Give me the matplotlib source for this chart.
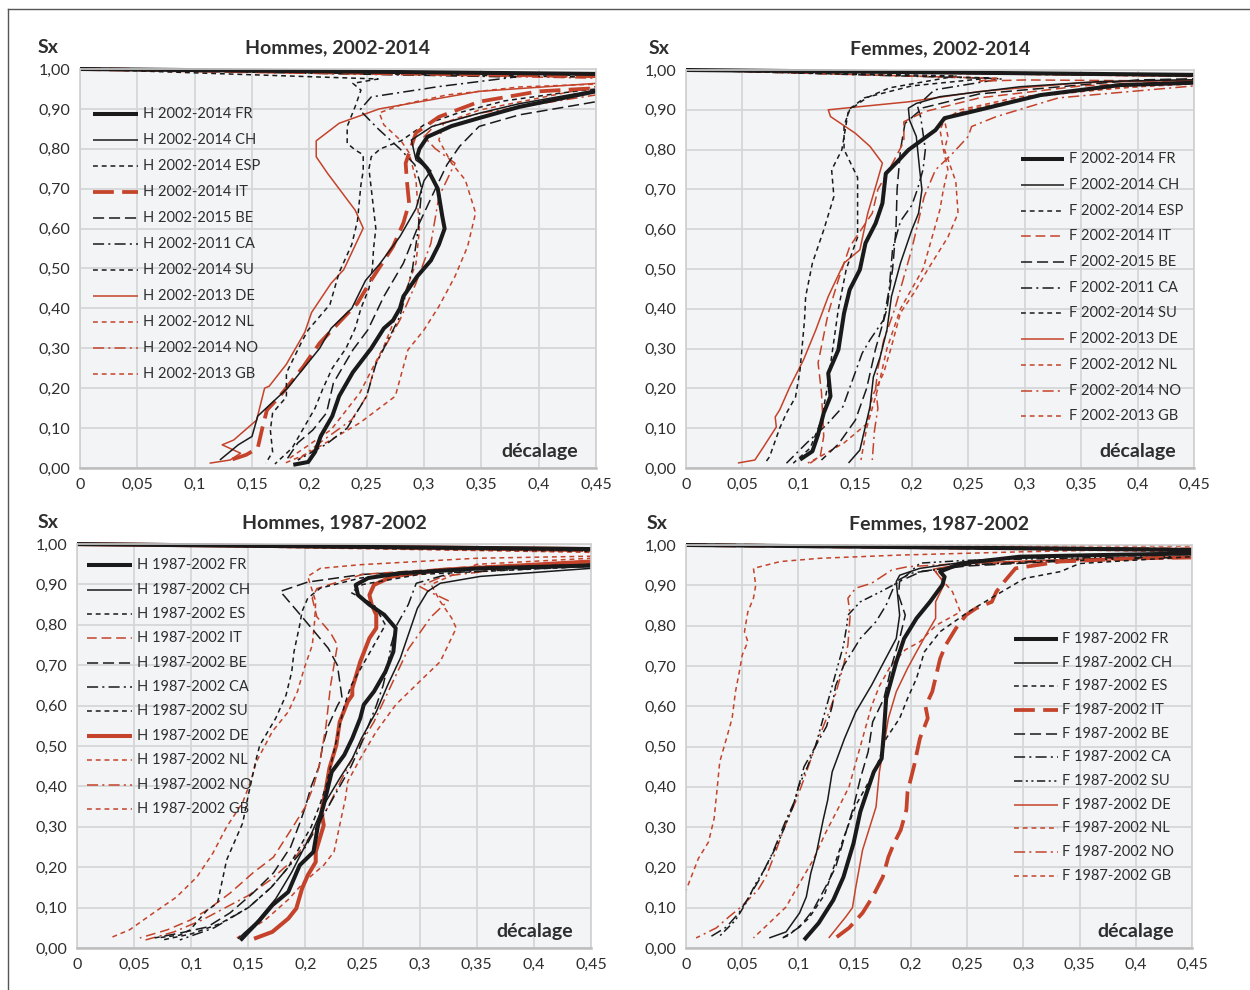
"""Sx vs décalage curves, four panels (Hommes/Femmes, 2002-2014 / 1987-2002)."""

import matplotlib
matplotlib.use("Agg")
import matplotlib.pyplot as plt
from matplotlib.lines import Line2D
from matplotlib.patches import Rectangle
from matplotlib.ticker import FuncFormatter, MultipleLocator

# ── Configuration ──────────────────────────────────────────────────────
plt.rcParams.update({
    "font.family": ["Lato", "DejaVu Sans"],
    "font.size": 11,
    "lines.scale_dashes": False,
})

BLACK = "#1a1a1a"
RED = "#c4432a"
TXT = "#2e2e2e"

KEYS = ["FR", "CH", "ES", "IT", "BE", "CA", "SU", "DE", "NL", "NO", "GB"]

# ── Data: (x = décalage, y = Sx) ───────────────────────────────────────
H0214 = {
    "FR": ([0, 0.55, 0.55, 0.45, 0.383, 0.348, 0.324, 0.303, 0.296, 0.294, 0.303, 0.312, 0.316, 0.318, 0.313, 0.306, 0.294, 0.282, 0.279, 0.273, 0.265, 0.254, 0.238, 0.226, 0.220, 0.210, 0.205, 0.199, 0.186],
           [1.0, 0.985, 0.975, 0.944, 0.905, 0.877, 0.857, 0.83, 0.80, 0.78, 0.75, 0.70, 0.63, 0.60, 0.56, 0.52, 0.48, 0.43, 0.40, 0.37, 0.35, 0.30, 0.24, 0.18, 0.13, 0.08, 0.04, 0.015, 0.008]),
    "CH": ([0, 0.55, 0.55, 0.45, 0.383, 0.348, 0.307, 0.289, 0.293, 0.306, 0.300, 0.293, 0.279, 0.261, 0.249, 0.237, 0.219, 0.209, 0.181, 0.155, 0.150, 0.138, 0.122],
           [1.0, 0.983, 0.97, 0.947, 0.913, 0.889, 0.856, 0.822, 0.772, 0.745, 0.72, 0.65, 0.58, 0.51, 0.47, 0.40, 0.35, 0.30, 0.20, 0.13, 0.079, 0.058, 0.02]),
    "ES": ([0, 0.26, 0.238, 0.245, 0.24, 0.233, 0.233, 0.24, 0.247, 0.247, 0.245, 0.242, 0.237, 0.226, 0.218, 0.199, 0.194, 0.18, 0.18, 0.168, 0.166, 0.168, 0.162],
           [1.0, 0.975, 0.964, 0.947, 0.906, 0.856, 0.814, 0.797, 0.785, 0.745, 0.71, 0.62, 0.56, 0.49, 0.41, 0.346, 0.32, 0.238, 0.178, 0.138, 0.095, 0.04, 0.012]),
    "IT": ([0, 0.55, 0.55, 0.45, 0.40, 0.348, 0.313, 0.293, 0.284, 0.285, 0.287, 0.282, 0.273, 0.254, 0.242, 0.228, 0.209, 0.195, 0.174, 0.163, 0.159, 0.155, 0.145, 0.126],
           [1.0, 0.978, 0.962, 0.952, 0.944, 0.918, 0.88, 0.84, 0.764, 0.722, 0.664, 0.614, 0.555, 0.471, 0.413, 0.371, 0.313, 0.255, 0.179, 0.145, 0.10, 0.05, 0.033, 0.015]),
    "BE": ([0, 0.55, 0.55, 0.45, 0.383, 0.348, 0.331, 0.32, 0.31, 0.296, 0.282, 0.265, 0.251, 0.238, 0.221, 0.215, 0.203, 0.19, 0.18],
           [1.0, 0.98, 0.93, 0.918, 0.885, 0.856, 0.806, 0.76, 0.70, 0.614, 0.513, 0.43, 0.346, 0.296, 0.213, 0.138, 0.095, 0.063, 0.02]),
    "CA": ([0, 0.38, 0.313, 0.254, 0.244, 0.26, 0.279, 0.292, 0.298, 0.295, 0.29, 0.279, 0.258, 0.25, 0.233, 0.215, 0.19],
           [1.0, 0.98, 0.956, 0.93, 0.897, 0.85, 0.80, 0.76, 0.70, 0.60, 0.50, 0.38, 0.26, 0.18, 0.10, 0.06, 0.02]),
    "SU": ([0, 0.55, 0.55, 0.45, 0.42, 0.37, 0.33, 0.30, 0.28, 0.262, 0.254, 0.252, 0.254, 0.256, 0.258, 0.256, 0.255, 0.252, 0.245, 0.24, 0.232, 0.22, 0.212, 0.205, 0.195, 0.185, 0.17],
           [1.0, 0.975, 0.96, 0.95, 0.94, 0.92, 0.89, 0.86, 0.82, 0.80, 0.78, 0.75, 0.70, 0.65, 0.60, 0.55, 0.50, 0.45, 0.40, 0.35, 0.30, 0.25, 0.20, 0.15, 0.10, 0.05, 0.01]),
    "DE": ([0, 0.55, 0.55, 0.45, 0.348, 0.261, 0.226, 0.206, 0.206, 0.216, 0.24, 0.247, 0.23, 0.219, 0.202, 0.196, 0.18, 0.165, 0.161, 0.154, 0.134, 0.124, 0.14, 0.131, 0.113],
           [1.0, 0.987, 0.968, 0.964, 0.944, 0.90, 0.864, 0.82, 0.78, 0.738, 0.646, 0.601, 0.497, 0.463, 0.39, 0.34, 0.26, 0.205, 0.20, 0.12, 0.07, 0.058, 0.037, 0.02, 0.012]),
    "NL": ([0, 0.55, 0.55, 0.45, 0.348, 0.317, 0.313, 0.324, 0.336, 0.345, 0.338, 0.327, 0.313, 0.30, 0.286, 0.275, 0.244, 0.199, 0.179],
           [1.0, 0.985, 0.96, 0.956, 0.897, 0.864, 0.822, 0.764, 0.722, 0.639, 0.555, 0.48, 0.405, 0.346, 0.296, 0.18, 0.113, 0.037, 0.0125]),
    "NO": ([0, 0.55, 0.55, 0.45, 0.35, 0.31, 0.30, 0.31, 0.327, 0.313, 0.306, 0.293, 0.279, 0.258, 0.25, 0.237, 0.209, 0.19],
           [1.0, 0.972, 0.945, 0.935, 0.89, 0.86, 0.83, 0.80, 0.764, 0.68, 0.563, 0.463, 0.371, 0.263, 0.18, 0.121, 0.063, 0.02]),
    "GB": ([0, 0.55, 0.55, 0.45, 0.383, 0.32, 0.28, 0.261, 0.265, 0.28, 0.287, 0.293, 0.296, 0.293, 0.279, 0.265, 0.244, 0.219, 0.181],
           [1.0, 0.975, 0.965, 0.962, 0.955, 0.935, 0.91, 0.89, 0.86, 0.82, 0.79, 0.722, 0.597, 0.513, 0.405, 0.305, 0.188, 0.096, 0.021]),
}

F0214 = {
    "FR": ([0, 0.55, 0.55, 0.45, 0.384, 0.314, 0.26, 0.229, 0.221, 0.197, 0.186, 0.177, 0.174, 0.168, 0.159, 0.154, 0.145, 0.14, 0.135, 0.126, 0.128, 0.122, 0.117, 0.112, 0.101],
           [1.0, 0.985, 0.972, 0.968, 0.962, 0.937, 0.90, 0.879, 0.849, 0.799, 0.766, 0.74, 0.665, 0.615, 0.565, 0.498, 0.448, 0.389, 0.297, 0.238, 0.18, 0.138, 0.084, 0.042, 0.021]),
    "CH": ([0, 0.55, 0.55, 0.437, 0.367, 0.296, 0.225, 0.204, 0.197, 0.198, 0.204, 0.207, 0.209, 0.206, 0.20, 0.19, 0.182, 0.178, 0.172, 0.166, 0.163, 0.154, 0.144],
           [1.0, 0.982, 0.978, 0.975, 0.971, 0.958, 0.933, 0.916, 0.904, 0.874, 0.833, 0.749, 0.699, 0.64, 0.598, 0.515, 0.431, 0.347, 0.279, 0.229, 0.154, 0.045, 0.0125]),
    "ES": ([0, 0.27, 0.20, 0.158, 0.144, 0.142, 0.138, 0.129, 0.131, 0.122, 0.112, 0.106, 0.105, 0.101, 0.097, 0.089, 0.083, 0.074, 0.07],
           [1.0, 0.98, 0.96, 0.93, 0.90, 0.866, 0.799, 0.749, 0.682, 0.598, 0.515, 0.431, 0.372, 0.246, 0.178, 0.138, 0.10, 0.028, 0.0125]),
    "IT": ([0, 0.275, 0.26, 0.30, 0.45, 0.35, 0.26, 0.211, 0.193, 0.193, 0.18, 0.17, 0.165, 0.145, 0.135, 0.126, 0.117, 0.12, 0.122, 0.119, 0.11],
           [1.0, 0.979, 0.972, 0.975, 0.972, 0.96, 0.93, 0.895, 0.87, 0.82, 0.75, 0.70, 0.64, 0.556, 0.473, 0.389, 0.264, 0.19, 0.08, 0.03, 0.012]),
    "BE": ([0, 0.55, 0.55, 0.45, 0.40, 0.26, 0.21, 0.194, 0.19, 0.187, 0.186, 0.183, 0.178, 0.168, 0.16, 0.15, 0.135, 0.12],
           [1.0, 0.982, 0.98, 0.978, 0.975, 0.94, 0.905, 0.866, 0.80, 0.70, 0.60, 0.50, 0.40, 0.30, 0.20, 0.12, 0.06, 0.02]),
    "CA": ([0, 0.28, 0.22, 0.205, 0.208, 0.212, 0.21, 0.205, 0.20, 0.19, 0.183, 0.18, 0.175, 0.163, 0.156, 0.139, 0.125, 0.107, 0.089],
           [1.0, 0.978, 0.95, 0.91, 0.88, 0.80, 0.75, 0.70, 0.66, 0.62, 0.55, 0.45, 0.372, 0.322, 0.288, 0.154, 0.11, 0.063, 0.012]),
    "SU": ([0, 0.24, 0.18, 0.16, 0.145, 0.14, 0.14, 0.152, 0.152, 0.142, 0.135, 0.13, 0.125, 0.12, 0.11, 0.095],
           [1.0, 0.985, 0.955, 0.93, 0.90, 0.86, 0.80, 0.73, 0.58, 0.50, 0.40, 0.30, 0.20, 0.12, 0.05, 0.012]),
    "DE": ([0, 0.55, 0.55, 0.45, 0.35, 0.26, 0.197, 0.126, 0.128, 0.15, 0.163, 0.174, 0.168, 0.161, 0.154, 0.14, 0.126, 0.115, 0.104, 0.092, 0.083, 0.079, 0.08, 0.068, 0.061, 0.046],
           [1.0, 0.985, 0.977, 0.975, 0.968, 0.946, 0.92, 0.90, 0.883, 0.841, 0.808, 0.766, 0.707, 0.64, 0.548, 0.515, 0.431, 0.347, 0.271, 0.204, 0.146, 0.128, 0.103, 0.05, 0.02, 0.0125]),
    "NL": ([0, 0.55, 0.55, 0.45, 0.296, 0.243, 0.229, 0.232, 0.229, 0.239, 0.241, 0.232, 0.214, 0.202, 0.19, 0.182, 0.175, 0.165, 0.161, 0.14, 0.119, 0.108],
           [1.0, 0.982, 0.972, 0.97, 0.933, 0.90, 0.874, 0.833, 0.80, 0.72, 0.64, 0.58, 0.498, 0.44, 0.39, 0.305, 0.238, 0.18, 0.113, 0.063, 0.029, 0.0125]),
    "NO": ([0, 0.55, 0.55, 0.45, 0.33, 0.275, 0.253, 0.25, 0.236, 0.221, 0.211, 0.20, 0.19, 0.185, 0.175, 0.17, 0.168, 0.17, 0.167, 0.165],
           [1.0, 0.98, 0.965, 0.96, 0.93, 0.883, 0.858, 0.833, 0.79, 0.749, 0.682, 0.55, 0.45, 0.40, 0.32, 0.25, 0.2, 0.15, 0.095, 0.02]),
    "GB": ([0, 0.55, 0.55, 0.45, 0.38, 0.30, 0.25, 0.23, 0.225, 0.228, 0.232, 0.228, 0.225, 0.22, 0.215, 0.21, 0.20, 0.19, 0.178, 0.17, 0.16, 0.155],
           [1.0, 0.98, 0.968, 0.965, 0.955, 0.93, 0.90, 0.88, 0.85, 0.80, 0.75, 0.70, 0.65, 0.60, 0.55, 0.50, 0.45, 0.40, 0.30, 0.20, 0.10, 0.02]),
}

H8702 = {
    "FR": ([0, 0.55, 0.55, 0.45, 0.353, 0.283, 0.255, 0.244, 0.246, 0.256, 0.269, 0.279, 0.277, 0.27, 0.26, 0.251, 0.248, 0.241, 0.234, 0.223, 0.216, 0.211, 0.207, 0.195, 0.185, 0.171, 0.16, 0.15, 0.143],
           [1.0, 0.985, 0.955, 0.947, 0.94, 0.928, 0.916, 0.899, 0.874, 0.85, 0.825, 0.792, 0.734, 0.684, 0.635, 0.602, 0.569, 0.519, 0.478, 0.436, 0.354, 0.304, 0.238, 0.205, 0.139, 0.106, 0.069, 0.04, 0.019]),
    "CH": ([0, 0.55, 0.55, 0.45, 0.353, 0.318, 0.307, 0.298, 0.29, 0.283, 0.272, 0.262, 0.249, 0.241, 0.23, 0.216, 0.206, 0.188, 0.174, 0.157, 0.141],
           [1.0, 0.983, 0.935, 0.94, 0.92, 0.903, 0.883, 0.841, 0.775, 0.717, 0.651, 0.585, 0.519, 0.469, 0.42, 0.354, 0.288, 0.188, 0.122, 0.064, 0.023]),
    "ES": ([0, 0.55, 0.55, 0.45, 0.35, 0.248, 0.213, 0.202, 0.197, 0.195, 0.19, 0.188, 0.183, 0.174, 0.16, 0.157, 0.15, 0.145, 0.131, 0.123, 0.114, 0.099, 0.09, 0.07],
           [1.0, 0.98, 0.955, 0.95, 0.94, 0.916, 0.891, 0.866, 0.833, 0.80, 0.734, 0.684, 0.626, 0.569, 0.502, 0.469, 0.379, 0.309, 0.218, 0.111, 0.094, 0.045, 0.032, 0.025]),
    "IT": ([0, 0.55, 0.55, 0.45, 0.35, 0.25, 0.21, 0.206, 0.21, 0.222, 0.228, 0.225, 0.222, 0.22, 0.218, 0.215, 0.212, 0.207, 0.2, 0.189, 0.172, 0.154, 0.134, 0.114, 0.099, 0.079, 0.055],
           [1.0, 0.978, 0.96, 0.955, 0.945, 0.925, 0.89, 0.866, 0.82, 0.78, 0.75, 0.70, 0.65, 0.60, 0.55, 0.50, 0.45, 0.40, 0.35, 0.30, 0.225, 0.186, 0.136, 0.094, 0.069, 0.045, 0.025]),
    "BE": ([0, 0.55, 0.55, 0.45, 0.35, 0.25, 0.202, 0.178, 0.197, 0.22, 0.228, 0.232, 0.228, 0.22, 0.215, 0.212, 0.205, 0.2, 0.195, 0.187, 0.172, 0.154, 0.134, 0.114, 0.09, 0.068],
           [1.0, 0.98, 0.952, 0.95, 0.94, 0.925, 0.906, 0.883, 0.82, 0.742, 0.70, 0.62, 0.60, 0.55, 0.50, 0.45, 0.40, 0.35, 0.309, 0.25, 0.186, 0.136, 0.087, 0.052, 0.037, 0.025]),
    "CA": ([0, 0.55, 0.55, 0.45, 0.33, 0.297, 0.29, 0.28, 0.275, 0.272, 0.268, 0.262, 0.255, 0.248, 0.24, 0.23, 0.22, 0.21, 0.2, 0.185, 0.17, 0.15, 0.12, 0.09],
           [1.0, 0.985, 0.95, 0.945, 0.93, 0.903, 0.85, 0.80, 0.75, 0.70, 0.65, 0.60, 0.55, 0.50, 0.45, 0.40, 0.35, 0.30, 0.25, 0.20, 0.15, 0.10, 0.05, 0.02]),
    "SU": ([0, 0.55, 0.55, 0.45, 0.3, 0.25, 0.24, 0.26, 0.27, 0.26, 0.25, 0.24, 0.234, 0.23, 0.226, 0.222, 0.218, 0.212, 0.205, 0.195, 0.185, 0.17, 0.15, 0.125, 0.1, 0.075],
           [1.0, 0.978, 0.95, 0.945, 0.925, 0.90, 0.88, 0.85, 0.80, 0.75, 0.70, 0.65, 0.60, 0.55, 0.50, 0.45, 0.40, 0.35, 0.30, 0.25, 0.20, 0.15, 0.10, 0.06, 0.035, 0.02]),
    "DE": ([0, 0.55, 0.55, 0.45, 0.318, 0.276, 0.26, 0.256, 0.258, 0.262, 0.262, 0.256, 0.248, 0.241, 0.241, 0.237, 0.23, 0.227, 0.221, 0.218, 0.214, 0.216, 0.209, 0.209, 0.202, 0.197, 0.192, 0.185, 0.171, 0.155],
           [1.0, 0.985, 0.96, 0.957, 0.936, 0.92, 0.899, 0.874, 0.85, 0.825, 0.792, 0.767, 0.709, 0.643, 0.626, 0.61, 0.56, 0.502, 0.445, 0.395, 0.337, 0.304, 0.238, 0.213, 0.18, 0.147, 0.098, 0.073, 0.04, 0.023]),
    "NL": ([0, 0.55, 0.55, 0.45, 0.35, 0.248, 0.213, 0.202, 0.209, 0.208, 0.206, 0.199, 0.193, 0.185, 0.171, 0.157, 0.152, 0.145, 0.131, 0.119, 0.105, 0.087, 0.067, 0.046, 0.029],
           [1.0, 0.98, 0.975, 0.97, 0.965, 0.949, 0.94, 0.92, 0.858, 0.808, 0.75, 0.693, 0.635, 0.585, 0.536, 0.461, 0.412, 0.36, 0.30, 0.235, 0.176, 0.126, 0.087, 0.045, 0.025]),
    "NO": ([0, 0.55, 0.55, 0.45, 0.38, 0.32, 0.30, 0.31, 0.325, 0.31, 0.30, 0.29, 0.28, 0.27, 0.26, 0.245, 0.232, 0.22, 0.205, 0.19, 0.17, 0.15, 0.13, 0.11, 0.085, 0.06],
           [1.0, 0.978, 0.955, 0.95, 0.94, 0.92, 0.895, 0.88, 0.86, 0.82, 0.78, 0.74, 0.68, 0.62, 0.56, 0.49, 0.42, 0.35, 0.28, 0.22, 0.17, 0.13, 0.10, 0.07, 0.04, 0.02]),
    "GB": ([0, 0.55, 0.55, 0.45, 0.35, 0.31, 0.318, 0.328, 0.332, 0.318, 0.30, 0.279, 0.262, 0.248, 0.237, 0.235, 0.23, 0.225, 0.216, 0.199, 0.185, 0.165, 0.14],
           [1.0, 0.975, 0.97, 0.965, 0.95, 0.90, 0.858, 0.817, 0.792, 0.709, 0.66, 0.602, 0.536, 0.469, 0.412, 0.37, 0.304, 0.238, 0.205, 0.164, 0.12, 0.07, 0.025]),
}

F8702 = {
    "FR": ([0, 0.55, 0.55, 0.45, 0.368, 0.297, 0.244, 0.226, 0.23, 0.228, 0.217, 0.205, 0.194, 0.187, 0.178, 0.176, 0.174, 0.167, 0.162, 0.155, 0.149, 0.14, 0.131, 0.118, 0.105],
           [1.0, 0.985, 0.982, 0.979, 0.975, 0.971, 0.954, 0.934, 0.921, 0.901, 0.859, 0.818, 0.768, 0.71, 0.619, 0.536, 0.47, 0.437, 0.396, 0.338, 0.26, 0.176, 0.119, 0.062, 0.02]),
    "CH": ([0, 0.55, 0.55, 0.45, 0.333, 0.261, 0.208, 0.19, 0.187, 0.19, 0.187, 0.176, 0.165, 0.151, 0.141, 0.13, 0.126, 0.122, 0.116, 0.111, 0.107, 0.101, 0.089, 0.074],
           [1.0, 0.988, 0.985, 0.982, 0.971, 0.963, 0.942, 0.925, 0.909, 0.826, 0.768, 0.71, 0.652, 0.586, 0.52, 0.437, 0.367, 0.318, 0.236, 0.186, 0.127, 0.087, 0.04, 0.025]),
    "ES": ([0, 0.55, 0.55, 0.45, 0.35, 0.333, 0.301, 0.276, 0.251, 0.226, 0.212, 0.205, 0.197, 0.19, 0.178, 0.169, 0.151, 0.14, 0.123, 0.109, 0.091, 0.084],
           [1.0, 0.982, 0.975, 0.971, 0.954, 0.934, 0.917, 0.876, 0.834, 0.785, 0.735, 0.669, 0.619, 0.57, 0.52, 0.445, 0.354, 0.272, 0.131, 0.073, 0.031, 0.023]),
    "IT": ([0, 0.55, 0.55, 0.45, 0.404, 0.333, 0.293, 0.283, 0.276, 0.272, 0.258, 0.249, 0.24, 0.231, 0.226, 0.219, 0.213, 0.215, 0.208, 0.203, 0.197, 0.196, 0.191, 0.185, 0.18, 0.175, 0.166, 0.157, 0.145, 0.133],
           [1.0, 0.985, 0.972, 0.969, 0.967, 0.959, 0.942, 0.909, 0.884, 0.859, 0.843, 0.826, 0.793, 0.752, 0.718, 0.636, 0.60, 0.57, 0.52, 0.454, 0.387, 0.343, 0.293, 0.26, 0.226, 0.176, 0.127, 0.087, 0.05, 0.025]),
    "BE": ([0, 0.55, 0.55, 0.45, 0.35, 0.25, 0.21, 0.19, 0.189, 0.195, 0.19, 0.183, 0.176, 0.166, 0.162, 0.155, 0.149, 0.142, 0.133, 0.124, 0.113, 0.101, 0.086],
           [1.0, 0.985, 0.972, 0.97, 0.962, 0.948, 0.935, 0.91, 0.876, 0.826, 0.768, 0.702, 0.619, 0.561, 0.487, 0.42, 0.35, 0.285, 0.2, 0.151, 0.094, 0.052, 0.025]),
    "CA": ([0, 0.55, 0.55, 0.45, 0.35, 0.25, 0.2, 0.187, 0.183, 0.178, 0.169, 0.155, 0.144, 0.14, 0.133, 0.13, 0.125, 0.115, 0.105, 0.1, 0.097, 0.089, 0.077, 0.065, 0.056, 0.047, 0.036, 0.02],
           [1.0, 0.985, 0.975, 0.972, 0.965, 0.95, 0.93, 0.91, 0.884, 0.851, 0.81, 0.768, 0.718, 0.70, 0.65, 0.60, 0.55, 0.50, 0.45, 0.40, 0.367, 0.318, 0.236, 0.169, 0.127, 0.087, 0.052, 0.025]),
    "SU": ([0, 0.55, 0.55, 0.45, 0.35, 0.25, 0.208, 0.19, 0.173, 0.155, 0.144, 0.143, 0.14, 0.135, 0.13, 0.125, 0.12, 0.115, 0.108, 0.1, 0.095, 0.083, 0.071, 0.062, 0.053, 0.044, 0.029],
           [1.0, 0.988, 0.975, 0.972, 0.968, 0.962, 0.955, 0.909, 0.884, 0.859, 0.826, 0.80, 0.75, 0.70, 0.65, 0.60, 0.55, 0.50, 0.45, 0.40, 0.35, 0.268, 0.20, 0.16, 0.11, 0.069, 0.027]),
    "DE": ([0, 0.55, 0.55, 0.45, 0.35, 0.25, 0.22, 0.23, 0.222, 0.222, 0.215, 0.205, 0.197, 0.187, 0.18, 0.176, 0.172, 0.169, 0.157, 0.151, 0.148, 0.142, 0.127],
           [1.0, 0.985, 0.975, 0.972, 0.965, 0.955, 0.94, 0.905, 0.859, 0.818, 0.785, 0.735, 0.694, 0.636, 0.57, 0.503, 0.437, 0.35, 0.243, 0.151, 0.10, 0.077, 0.025]),
    "NL": ([0, 0.55, 0.55, 0.45, 0.35, 0.25, 0.222, 0.23, 0.237, 0.244, 0.222, 0.208, 0.195, 0.182, 0.172, 0.165, 0.16, 0.155, 0.15, 0.145, 0.136, 0.124, 0.113, 0.101, 0.089, 0.074, 0.06],
           [1.0, 0.98, 0.972, 0.968, 0.96, 0.952, 0.934, 0.906, 0.884, 0.834, 0.80, 0.76, 0.74, 0.70, 0.65, 0.60, 0.55, 0.50, 0.45, 0.40, 0.35, 0.285, 0.218, 0.161, 0.102, 0.062, 0.025]),
    "NO": ([0, 0.55, 0.55, 0.45, 0.35, 0.25, 0.197, 0.183, 0.165, 0.151, 0.144, 0.146, 0.144, 0.14, 0.133, 0.125, 0.115, 0.105, 0.098, 0.089, 0.078, 0.071, 0.064, 0.049, 0.038, 0.027, 0.009],
           [1.0, 0.99, 0.972, 0.97, 0.962, 0.955, 0.946, 0.938, 0.905, 0.893, 0.868, 0.826, 0.752, 0.70, 0.63, 0.57, 0.50, 0.42, 0.367, 0.31, 0.226, 0.176, 0.144, 0.102, 0.077, 0.05, 0.025]),
    "GB": ([0, 0.55, 0.55, 0.45, 0.297, 0.19, 0.119, 0.084, 0.06, 0.062, 0.06, 0.055, 0.052, 0.055, 0.05, 0.048, 0.044, 0.041, 0.036, 0.03, 0.028, 0.025, 0.02, 0.011, 0.0, -0.02],
           [1.0, 0.997, 0.993, 0.992, 0.983, 0.975, 0.967, 0.959, 0.942, 0.90, 0.868, 0.834, 0.785, 0.76, 0.727, 0.694, 0.636, 0.57, 0.52, 0.462, 0.404, 0.321, 0.263, 0.222, 0.143, 0.08]),
}

# ── Line styles: (colour, width, dashes in points) ─────────────────────
SOLID_THICK = (BLACK, 2.9, None)
SOLID_THIN = (BLACK, 1.1, None)
SHORT_DASH = (BLACK, 1.1, (3.5, 2.8))
LONG_DASH = (BLACK, 1.1, (8, 3.5))
DASH_DOT = (BLACK, 1.1, (8, 3, 1.5, 3))
DASH_DOT_DOT = (BLACK, 1.1, (6, 2.5, 1.5, 2.5, 1.5, 2.5))
RED_THICK_LONG = (RED, 2.7, (15, 6))
RED_THIN_LONG = (RED, 1.1, (7, 3.5))
RED_THICK = (RED, 2.9, None)
RED_THIN = (RED, 1.1, None)
RED_SHORT = (RED, 1.1, (3.5, 2.8))
RED_DASH_DOT = (RED, 1.1, (8, 3, 1.5, 3))

STYLE_H0214 = [SOLID_THICK, SOLID_THIN, SHORT_DASH, RED_THICK_LONG, LONG_DASH, DASH_DOT,
               SHORT_DASH, RED_THIN, RED_SHORT, RED_DASH_DOT, RED_SHORT]
STYLE_F0214 = [SOLID_THICK, SOLID_THIN, SHORT_DASH, RED_THIN_LONG, LONG_DASH, DASH_DOT,
               SHORT_DASH, RED_THIN, RED_SHORT, RED_DASH_DOT, RED_SHORT]
STYLE_H8702 = [SOLID_THICK, SOLID_THIN, SHORT_DASH, RED_THIN_LONG, LONG_DASH, DASH_DOT,
               SHORT_DASH, RED_THICK, RED_SHORT, RED_DASH_DOT, RED_SHORT]
STYLE_F8702 = [SOLID_THICK, SOLID_THIN, SHORT_DASH, RED_THICK_LONG, LONG_DASH, DASH_DOT,
               DASH_DOT_DOT, RED_THIN, RED_SHORT, RED_DASH_DOT, RED_SHORT]

LABELS_H0214 = ["H 2002-2014 FR", "H 2002-2014 CH", "H 2002-2014 ESP", "H 2002-2014 IT",
                "H 2002-2015 BE", "H 2002-2011 CA", "H 2002-2014 SU", "H 2002-2013 DE",
                "H 2002-2012 NL", "H 2002-2014 NO", "H 2002-2013 GB"]
LABELS_F0214 = [s.replace("H ", "F ") for s in LABELS_H0214]
LABELS_H8702 = ["H 1987-2002 " + k for k in KEYS]
LABELS_F8702 = ["F 1987-2002 " + k for k in KEYS]


def styled(line, st):
    color, lw, dashes = st
    line.set_color(color)
    line.set_linewidth(lw)
    line.set_solid_capstyle("butt")
    line.set_dash_capstyle("butt")
    if dashes:
        line.set_dashes(dashes)
    return line


def fmt(v, _pos):
    s = f"{v:.2f}".rstrip("0").rstrip(".")
    return s.replace(".", ",")


def panel(fig, rect, data, styles, labels, title, leg, sx_pos):
    ax = fig.add_axes(rect)
    ax.set_facecolor("#f3f4f6")
    ax.set_xlim(0, 0.45)
    ax.set_ylim(0, 1.0)
    ax.xaxis.set_major_locator(MultipleLocator(0.05))
    ax.yaxis.set_major_locator(MultipleLocator(0.10))
    ax.xaxis.set_major_formatter(FuncFormatter(fmt))
    ax.yaxis.set_major_formatter(FuncFormatter(lambda v, p: f"{v:.2f}".replace(".", ",")))
    ax.grid(True, color="#d6d7d9", lw=1.3)
    ax.set_axisbelow(True)
    ax.tick_params(length=0, labelsize=11.5, colors=TXT, pad=7)
    for side, sp in ax.spines.items():
        sp.set_color("#d0d0d0")
        sp.set_linewidth(1.2)
    ax.spines["bottom"].set_color("#bdbdbd")
    ax.spines["bottom"].set_linewidth(1.8)

    clip = Rectangle((0, 0), 0.45, 1.02, transform=ax.transData)
    for key, st in reversed(list(zip(KEYS, styles))):
        x, y = data[key]
        ln, = ax.plot(x, y)
        styled(ln, st)
        ln.set_clip_path(clip)

    # hand-placed legend
    hx0, hx1, tx, y0, dy = leg
    for i, (lab, st) in enumerate(zip(labels, styles)):
        yy = y0 - i * dy
        ln = Line2D([hx0, hx1], [yy, yy], transform=ax.transAxes)
        styled(ln, st)
        ax.add_line(ln)
        ax.text(tx, yy, lab, transform=ax.transAxes, fontsize=10.5, color=TXT,
                ha="left", va="center")

    ax.text(0.965, 0.042, "décalage", transform=ax.transAxes, ha="right", va="center",
            fontsize=14, fontweight="bold", color=TXT)
    cx = rect[0] + rect[2] / 2
    ty = rect[1] + rect[3] + 0.0215
    fig.text(cx, ty, title, ha="center", va="center", fontsize=14, fontweight="bold", color=TXT)
    fig.text(sx_pos, ty, "Sx", ha="center", va="center", fontsize=14, fontweight="bold", color=TXT)
    return ax


def main():
    fig = plt.figure(figsize=(12.5, 9.9), dpi=100)

    panel(fig, [0.064, 0.5273, 0.4128, 0.403], H0214, STYLE_H0214, LABELS_H0214,
          "Hommes, 2002-2014", (0.025, 0.112, 0.122, 0.887, 0.0652), 0.0385)
    panel(fig, [0.5488, 0.5273, 0.4064, 0.402], F0214, STYLE_F0214, LABELS_F0214,
          "Femmes, 2002-2014", (0.659, 0.744, 0.753, 0.776, 0.0646), 0.527)
    panel(fig, [0.0616, 0.0424, 0.4112, 0.408], H8702, STYLE_H8702, LABELS_H8702,
          "Hommes, 1987-2002", (0.0195, 0.107, 0.117, 0.948, 0.0604), 0.0385)
    panel(fig, [0.5488, 0.0424, 0.4048, 0.4071], F8702, STYLE_F8702, LABELS_F8702,
          "Femmes, 1987-2002", (0.648, 0.735, 0.743, 0.767, 0.0588), 0.526)

    # outer frame (left and top edges)
    fig.add_artist(Line2D([0.006, 0.006], [0, 0.991], transform=fig.transFigure,
                          color="#555555", lw=1.0))
    fig.add_artist(Line2D([0.006, 1.0], [0.991, 0.991], transform=fig.transFigure,
                          color="#555555", lw=1.0))

    fig.savefig("out.png", dpi=100)
    plt.close(fig)


if __name__ == "__main__":
    main()
